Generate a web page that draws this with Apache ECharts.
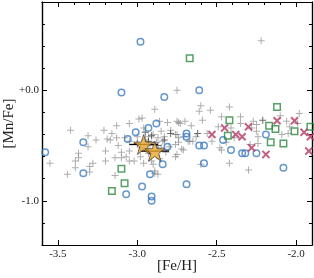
<!DOCTYPE html>
<html>
<head>
<meta charset="utf-8">
<script src="https://cdn.jsdelivr.net/npm/echarts@6/dist/echarts.min.js"></script>
<style>html,body{margin:0;padding:0;background:#fff;}#c{width:314px;height:278px;}</style>
</head>
<body>
<div id="c"></div>
<script>
// ---- data ----
const xMajorTicks = [-3.5, -3.0, -2.5, -2.0];
const xMinorTicks = [-3.6,-3.4,-3.3,-3.2,-3.1,-2.9,-2.8,-2.7,-2.6,-2.4,-2.3,-2.2,-2.1,-1.9];
const yMajorTicks = [-1.0, 0.0];
const yMinorTicks = [-1.4,-1.2,-0.8,-0.6,-0.4,-0.2,0.2,0.4,0.6,0.8];

const grayPlus = [
 [-3.55,-0.66],[-3.44,-0.76],[-3.42,-0.36],[-3.39,-0.70],[-3.39,-0.64],[-3.37,-0.57],[-3.37,-0.61],
 [-3.31,-0.41],[-3.31,-0.51],[-3.30,-0.69],[-3.30,-0.74],[-3.28,-0.66],[-3.21,-0.36],[-3.20,-0.55],
 [-3.20,-0.64],[-3.19,-0.44],[-3.17,-0.45],[-3.14,-0.61],[-3.14,-0.77],[-3.13,-0.32],[-3.13,-0.43],
 [-3.12,-0.50],[-3.10,-0.56],[-3.10,-0.61],[-3.08,-0.43],[-3.05,-0.30],[-3.05,-0.46],[-3.05,-0.55],
 [-3.05,-0.64],[-3.07,-0.60],[-2.99,-0.26],[-2.97,-0.25],[-3.02,-0.64],[-2.98,-0.60],[-2.96,-0.34],
 [-2.96,-0.66],[-2.93,-0.42],[-2.91,-0.64],[-2.90,-0.67],[-2.89,-0.17],[-2.89,-0.73],[-2.89,-0.75],
 [-2.87,-0.43],[-2.87,-0.76],[-2.86,-0.28],[-2.85,-0.37],[-2.84,-0.46],[-2.81,-0.29],[-2.80,-0.51],
 [-2.76,-0.40],[-2.76,-0.49],[-2.76,-0.60],[-2.75,0.00],[-2.75,-0.28],[-2.75,-0.58],[-2.74,-0.43],
 [-2.73,-0.30],[-2.72,-0.53],[-2.71,-0.42],[-2.71,-0.54],[-2.70,-0.28],[-2.67,-0.46],[-2.65,-0.46],
 [-2.63,-0.42],[-2.61,-0.19],[-2.60,-0.14],[-2.60,-0.67],[-2.59,-0.27],[-2.56,-0.39],[-2.54,-0.18],
 [-2.49,-0.33],[-2.48,-0.52],[-2.47,-0.24],[-2.47,-0.54],[-2.42,-0.15],[-2.42,-0.66],[-2.41,-0.34],
 [-2.39,-0.43],[-2.35,-0.24],[-2.35,-0.30],[-2.30,-0.72],[-2.29,-0.49],[-2.28,-0.34],[-2.27,-0.28],
 [-2.25,-0.31],[-2.25,-0.37],[-2.24,-0.42],[-2.24,-0.48],[-2.22,0.45],[-2.10,-0.23],[-2.09,-0.40],
 [-2.06,-0.28],[-2.05,-0.39],[-2.04,-0.33],[-1.98,-0.21],[-1.99,-0.30],
 [-2.95,-0.45],[-2.92,-0.50],[-2.90,-0.40],[-2.88,-0.47],[-2.85,-0.52],[-2.83,-0.42],[-2.82,-0.56],
 [-2.98,-0.52],[-3.00,-0.42],[-2.93,-0.57],[-2.86,-0.62],[-2.74,-0.29],[-2.66,-0.32],[-2.75,-0.40],
 [-2.74,-0.47],[-2.68,-0.46],[-3.26,-0.45],[-3.16,-0.39],[-2.79,-0.36],[-2.53,-0.46],[-2.44,-0.47]
];
const darkPlus = [
 [-2.21,-0.27],[-2.91,-0.41],[-2.95,-0.38],[-2.87,-0.50],[-3.00,-0.48],[-2.83,-0.45],[-2.62,-0.39],
 [-2.79,-0.39],[-2.93,-0.46]
];
const blueCircles = [
 [-2.98,0.44],[-3.10,-0.02],[-2.83,-0.06],[-2.61,0.00],[-3.58,-0.56],[-3.34,-0.47],[-3.34,-0.75],
 [-3.06,-0.44],[-3.01,-0.38],[-2.93,-0.34],[-2.88,-0.30],[-2.81,-0.51],[-2.69,-0.39],[-2.69,-0.42],
 [-2.61,-0.50],[-2.58,-0.50],[-2.58,-0.66],[-2.84,-0.67],[-2.92,-0.76],[-2.97,-0.87],[-2.69,-0.85],
 [-3.07,-0.94],[-2.91,-0.96],[-2.91,-1.00],[-2.46,-0.45],[-2.41,-0.54],[-2.34,-0.57],[-2.32,-0.57],
 [-2.25,-0.57],[-2.19,-0.40],[-2.08,-0.70]
];
const greenSquares = [
 [-2.67,0.29],[-3.10,-0.71],[-3.08,-0.84],[-3.16,-0.91],[-2.12,-0.15],[-2.42,-0.27],[-2.43,-0.41],
 [-2.17,-0.32],[-2.13,-0.35],[-2.01,-0.37],[-2.16,-0.47],[-2.08,-0.48],[-1.91,-0.33]
];
const pinkCrosses = [
 [-2.53,-0.40],[-2.45,-0.34],[-2.38,-0.40],[-2.34,-0.42],[-2.30,-0.33],[-2.12,-0.275],[-2.01,-0.275],
 [-2.28,-0.52],[-2.19,-0.58],[-1.95,-0.38],[-1.91,-0.42],[-1.92,-0.55]
];
const stars = [[-2.96,-0.49],[-2.89,-0.55]];
const starErr = [0.09, 0.09];

// ---- chart ----
const FONT = "'Liberation Serif','DejaVu Serif',serif";
const PLUS = 'path://M3,0H4V3H7V4H4V7H3V4H0V3H3Z';
const CROSS = 'path://M4,0H6V4H10V6H6V10H4V6H0V4H4Z';
const STAR = 'path://M50,2 L61.8,38 L99,38 L69,60 L80.5,96 L50,74 L19.5,96 L31,60 L1,38 L38.2,38 Z';

function xAx(pos, ticks, len, labels, name) {
  return {
    type: 'value', position: pos, min: -3.6, max: -1.9,
    axisLine: {show: true, onZero: false, lineStyle: {color: '#000', width: 1.2}},
    axisTick: {show: true, inside: true, length: len, customValues: ticks, lineStyle: {color: '#000', width: 1}},
    axisLabel: labels ? {show: true, customValues: ticks, formatter: v => v.toFixed(1), fontFamily: FONT, fontSize: 11, color: '#222', margin: 4} : {show: false},
    splitLine: {show: false},
    name: name || '', nameLocation: 'middle', nameGap: 14, nameMoveOverlap: false,
    nameTextStyle: {fontFamily: FONT, fontSize: 15, color: '#222'}
  };
}
function yAx(pos, ticks, len, labels, name) {
  return {
    type: 'value', position: pos, min: -1.4, max: 0.8,
    axisLine: {show: true, onZero: false, lineStyle: {color: '#000', width: 1.2}},
    axisTick: {show: true, inside: true, length: len, customValues: ticks, lineStyle: {color: '#000', width: 1}},
    axisLabel: labels ? {show: true, customValues: ticks, formatter: v => (v >= 0 ? '+' : '') + v.toFixed(1), fontFamily: FONT, fontSize: 11, color: '#222', margin: 3} : {show: false},
    splitLine: {show: false},
    name: name || '', nameLocation: 'middle', nameGap: 25, nameMoveOverlap: false,
    nameTextStyle: {fontFamily: FONT, fontSize: 15, color: '#222'}
  };
}

const chart = echarts.init(document.getElementById('c'), null, {renderer: 'canvas'});
chart.setOption({
  animation: false,
  backgroundColor: '#fff',
  grid: {left: 42, right: 2, top: 2, bottom: 33, containLabel: false, outerBoundsMode: 'none'},
  xAxis: [
    xAx('bottom', xMajorTicks, 5, true, '[Fe/H]'),
    xAx('top', xMajorTicks, 5, false),
    xAx('top', xMinorTicks, 3, false)
  ],
  yAxis: [
    yAx('left', yMajorTicks, 5, true, '[Mn/Fe]'),
    yAx('left', yMinorTicks, 3, false),
    yAx('right', yMajorTicks, 5, false),
    yAx('right', yMinorTicks, 3, false)
  ],
  series: [
    {type: 'scatter', data: grayPlus, symbol: PLUS, symbolSize: 7, z: 2,
     itemStyle: {color: 'rgba(120,120,120,0.75)'}},
    {type: 'scatter', data: darkPlus, symbol: PLUS, symbolSize: 7, z: 2,
     itemStyle: {color: 'rgba(40,40,40,0.85)'}},
    {type: 'scatter', data: blueCircles, symbol: 'circle', symbolSize: 6.5, z: 3,
     itemStyle: {color: 'rgba(0,0,0,0)', borderColor: '#3f7cbf', borderWidth: 1.5}},
    {type: 'scatter', data: greenSquares, symbol: 'rect', symbolSize: 6.5, z: 3,
     itemStyle: {color: 'rgba(0,0,0,0)', borderColor: '#2b8a3e', borderWidth: 1.5}},
    {type: 'scatter', data: pinkCrosses, symbol: CROSS, symbolSize: 10, symbolRotate: 45, z: 4,
     itemStyle: {color: '#b23a63'}},
    {type: 'custom', z: 5,
     data: stars.map((s, i) => [s[0], s[1], starErr[i]]),
     renderItem: function (params, api) {
       const x = api.value(0), y = api.value(1), e = api.value(2);
       const p1 = api.coord([x - e, y]), p2 = api.coord([x + e, y]);
       return {type: 'line', shape: {x1: p1[0], y1: p1[1], x2: p2[0], y2: p2[1]},
               style: {stroke: '#000', lineWidth: 1.3}};
     }},
    {type: 'scatter', data: stars, symbol: STAR, symbolSize: 20, z: 6,
     itemStyle: {color: '#e8a62a', borderColor: '#222', borderWidth: 0.8}}
  ]
});
</script>
</body>
</html>
